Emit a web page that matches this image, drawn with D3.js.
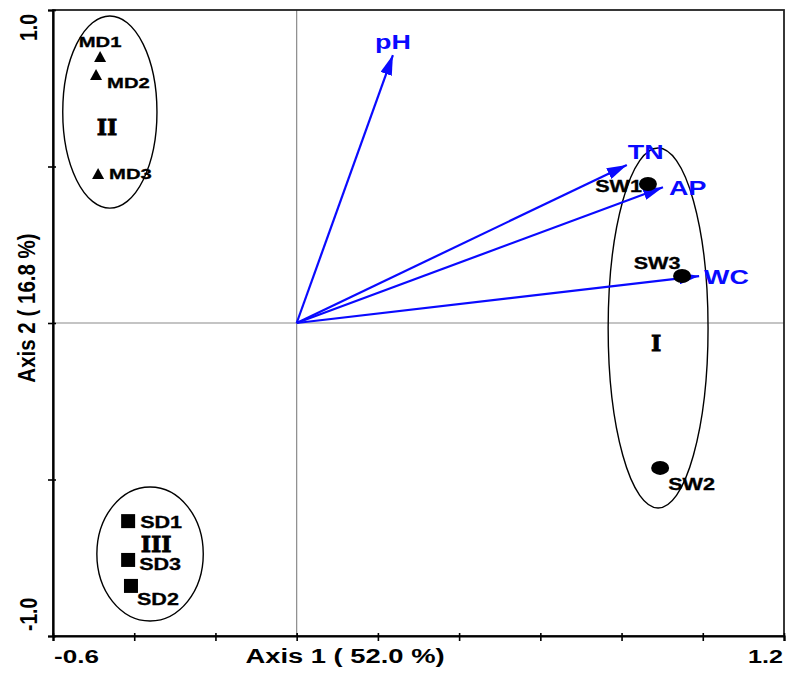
<!DOCTYPE html>
<html>
<head>
<meta charset="utf-8">
<title>CCA biplot</title>
<script src="https://cdnjs.cloudflare.com/ajax/libs/d3/7.8.5/d3.min.js"></script>
<style>
body { margin: 0; background: #fff; }
text { font-family: "Liberation Sans", Arial, sans-serif; font-weight: bold; }
</style>
</head>
<body>
<div id="chart"></div>
<script>
// sample scores
var siteNames = ["MD1", "MD2", "MD3", "SW1", "SW2", "SW3", "SD1", "SD2", "SD3"];
var siteAxis1 = [-0.484, -0.494, -0.489, 0.865, 0.895, 0.949, -0.415, -0.408, -0.415];
var siteAxis2 = [0.850, 0.792, 0.476, 0.444, -0.463, 0.150, -0.633, -0.840, -0.757];
var siteShape = ["triangle", "triangle", "triangle", "circle", "circle", "circle", "square", "square", "square"];

// environmental vectors
var envNames = ["pH", "TN", "AP", "WC"];
var envAxis1 = [0.237, 0.813, 0.902, 0.991];
var envAxis2 = [0.856, 0.505, 0.434, 0.150];

// groups (ellipses)
var groupNames = ["I", "II", "III"];
var groupCx = [0.890, -0.460, -0.361];
var groupCy = [-0.016, 0.674, -0.738];
var groupRx = [0.123, 0.116, 0.131];
var groupRy = [0.575, 0.307, 0.214];
var groupLabelX = [0.885, -0.467, -0.346];
var groupLabelY = [-0.064, 0.626, -0.706];

var xTicks = [-0.6, -0.4, -0.2, 0, 0.2, 0.4, 0.6, 0.8, 1.0, 1.2];
var yTicks = [-1.0, -0.5, 0, 0.5, 1.0];

// label placement (pixels)
var siteLabelPos = {
  MD1: [0, -15, "middle"], MD2: [11, 8, "start"], MD3: [11, 0, "start"],
  SW1: [-6, 3, "end"], SW2: [8, 17, "start"], SW3: [-25, -13, "middle"],
  SD1: [12, 1, "start"], SD2: [6, 14, "start"], SD3: [11, 5, "start"]
};
var envLabelPos = { pH: [0, -13, "middle"], TN: [1, -13, "start"], AP: [6, 0, "start"], WC: [5, 1, "start"] };

var W = 786, H = 673;
var m = { l: 53, r: 784, t: 10, b: 636 };

var svg = d3.select("#chart").append("svg").attr("width", W).attr("height", H);

// text is drawn a little stretched, like the original export
function label(px, py, str, size, anchor, sx, sy, rot) {
  var tr = "translate(" + px + "," + py + ")" + (rot ? " rotate(" + rot + ")" : "") + " scale(" + sx + "," + sy + ")";
  return svg.append("text").attr("transform", tr).attr("text-anchor", anchor)
    .attr("font-size", size).text(str);
}

var x = d3.scaleLinear().domain([-0.6, 1.2]).range([m.l, m.r]);
var y = d3.scaleLinear().domain([-1.0, 1.0]).range([m.b, m.t]);

// origin lines
svg.append("line").attr("x1", x(0)).attr("x2", x(0)).attr("y1", m.t).attr("y2", m.b)
  .attr("stroke", "#8a8a8a").attr("stroke-width", 1.2);
svg.append("line").attr("x1", m.l).attr("x2", m.r).attr("y1", y(0)).attr("y2", y(0))
  .attr("stroke", "#8a8a8a").attr("stroke-width", 1.2);

// frame
svg.append("rect").attr("x", m.l).attr("y", m.t).attr("width", m.r - m.l).attr("height", m.b - m.t)
  .attr("fill", "none").attr("stroke", "#222").attr("stroke-width", 1.8);

// axes
var xAxis = svg.append("g").attr("transform", "translate(0," + m.b + ")")
  .call(d3.axisBottom(x).tickValues(xTicks).tickSize(5).tickFormat(""));
xAxis.select(".domain").attr("stroke-width", 2.2).attr("stroke", "#000");
xAxis.selectAll(".tick line").attr("y1", -3).attr("stroke-width", 1.6);

var yAxis = svg.append("g").attr("transform", "translate(" + m.l + ",0)")
  .call(d3.axisLeft(y).tickValues(yTicks).tickSize(5).tickFormat(""));
yAxis.select(".domain").attr("stroke-width", 2.2).attr("stroke", "#000");
yAxis.selectAll(".tick line").attr("x1", 3).attr("stroke-width", 1.6);

// tick labels at the ends
label(x(-0.6) + 1, 663, "-0.6", 18, "start", 1.45, 1.02);
label(x(1.2) - 1, 663, "1.2", 18, "end", 1.4, 1.02);
label(37, y(1.0) + 4, "1.0", 18, "end", 1.08, 1.35, -90);
label(37, y(-1.0) - 5, "-1.0", 18, "start", 1.07, 1.35, -90);

// axis titles
label(345, 663, "Axis 1 ( 52.0 %)", 18, "middle", 1.52, 1.14);
label(35, 308, "Axis 2 ( 16.8 %)", 18, "middle", 1.14, 1.35, -90);

// ellipses
groupNames.forEach(function(g, i) {
  svg.append("ellipse")
    .attr("cx", x(groupCx[i])).attr("cy", y(groupCy[i]))
    .attr("rx", x(groupRx[i]) - x(0)).attr("ry", y(0) - y(groupRy[i]))
    .attr("fill", "none").attr("stroke", "#000").attr("stroke-width", 1.4);
  svg.append("text").attr("x", x(groupLabelX[i])).attr("y", y(groupLabelY[i]))
    .attr("text-anchor", "middle").attr("dominant-baseline", "central")
    .style("font-family", "'DejaVu Serif', 'Liberation Serif', serif")
    .attr("stroke", "#000").attr("stroke-width", 0.8)
    .attr("font-size", 22).text(g);
});

// arrows
svg.append("defs").append("marker").attr("id", "arrow")
  .attr("viewBox", "0 0 20 12").attr("refX", 20).attr("refY", 6)
  .attr("markerWidth", 20).attr("markerHeight", 12).attr("markerUnits", "userSpaceOnUse")
  .attr("orient", "auto")
  .append("path").attr("d", "M0,0 L20,6 L0,12 Z").attr("fill", "#0a0aff");

envNames.forEach(function(n, i) {
  svg.append("line").attr("x1", x(0)).attr("y1", y(0))
    .attr("x2", x(envAxis1[i])).attr("y2", y(envAxis2[i]))
    .attr("stroke", "#0a0aff").attr("stroke-width", 2.2).attr("marker-end", "url(#arrow)");
});

// site labels then markers
siteNames.forEach(function(n, i) {
  var p = siteLabelPos[n];
  label(x(siteAxis1[i]) + p[0], y(siteAxis2[i]) + p[1], n, n.charAt(0) == "M" ? 15 : 16, p[2], 1.35, 1)
    .attr("dominant-baseline", "central").attr("stroke", "#000").attr("stroke-width", 0.3);
});

siteNames.forEach(function(n, i) {
  var cx = x(siteAxis1[i]), cy = y(siteAxis2[i]);
  if (siteShape[i] == "triangle") {
    svg.append("path").attr("d", "M" + (cx - 6) + "," + (cy + 5) + " L" + cx + "," + (cy - 6) + " L" + (cx + 6) + "," + (cy + 5) + " Z")
      .attr("fill", "#000");
  } else if (siteShape[i] == "square") {
    svg.append("rect").attr("x", cx - 7).attr("y", cy - 7).attr("width", 14).attr("height", 14).attr("fill", "#000");
  } else {
    svg.append("ellipse").attr("cx", cx).attr("cy", cy).attr("rx", 9).attr("ry", 7).attr("fill", "#000");
  }
});

// env labels
envNames.forEach(function(n, i) {
  var p = envLabelPos[n];
  label(x(envAxis1[i]) + p[0], y(envAxis2[i]) + p[1], n, 21, p[2], 1.28, 1)
    .attr("dominant-baseline", "central").attr("fill", "#0a0aff");
});
</script>
</body>
</html>
